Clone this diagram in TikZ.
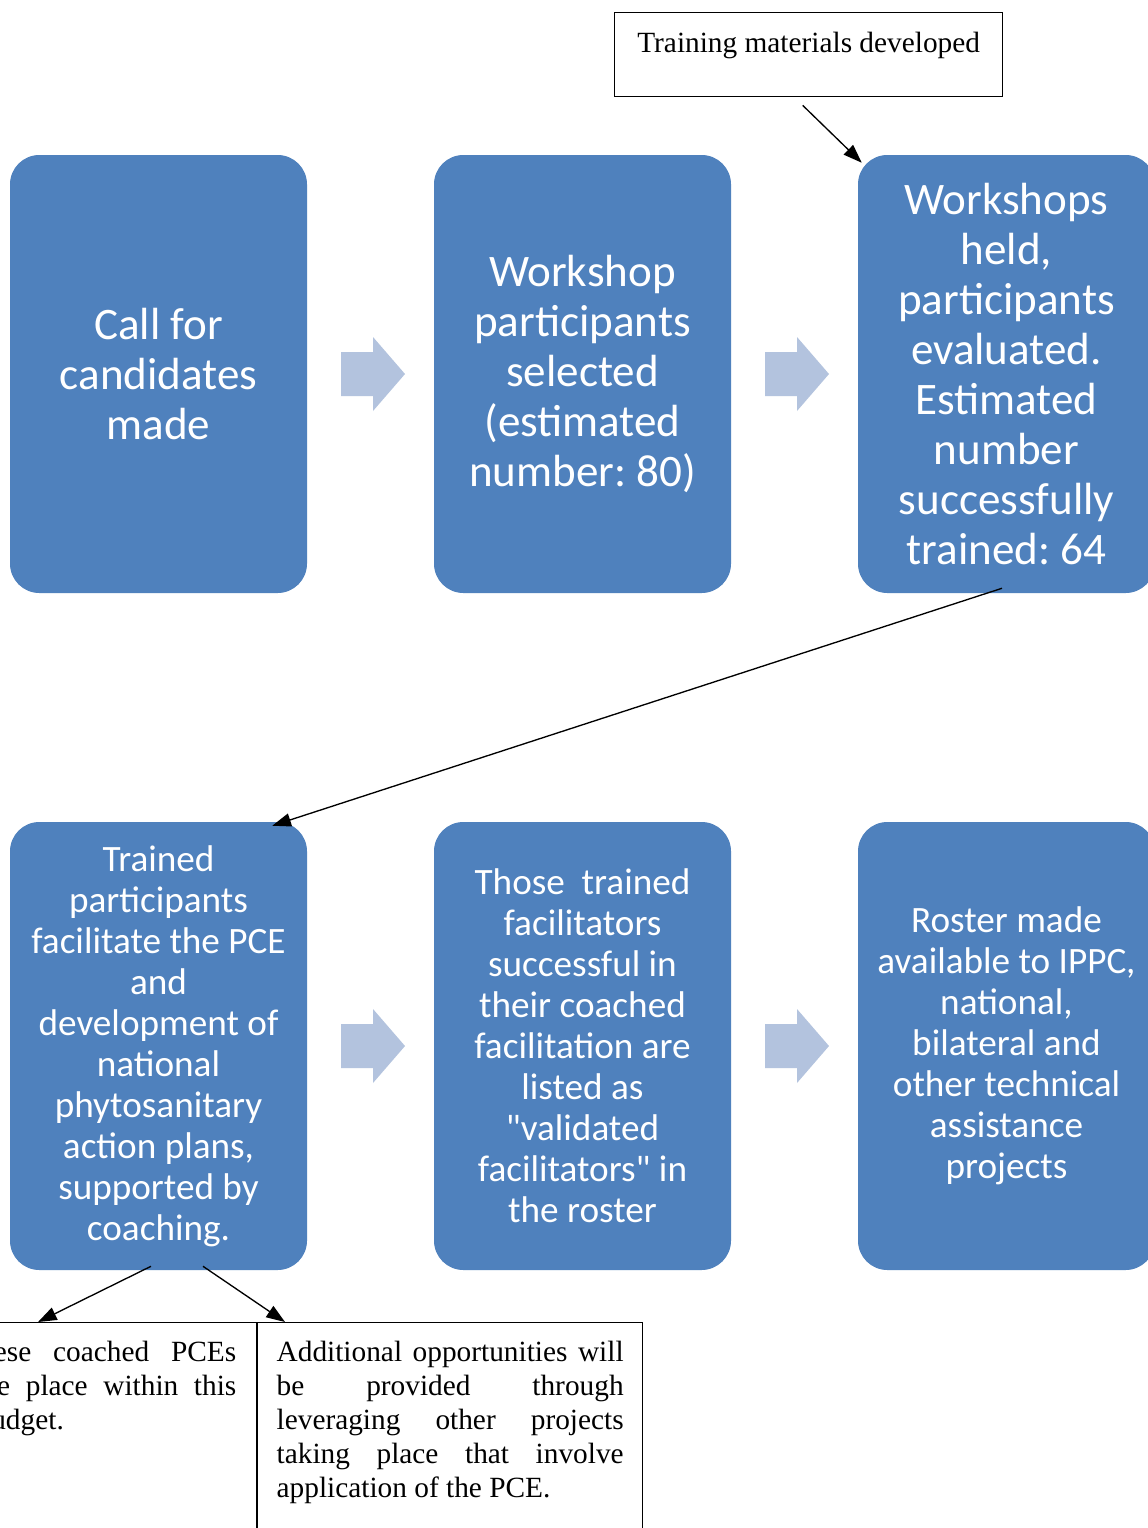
\documentclass[tikz,border=0pt]{standalone}
\usepackage{fontspec}
\setmainfont{Liberation Serif}
\newfontfamily\calib{Carlito}
\usetikzlibrary{arrows.meta,calc}
\definecolor{boxblue}{HTML}{4F81BD}
\definecolor{arrblue}{HTML}{B3C3DE}
\frenchspacing
\begin{document}
\begin{tikzpicture}[x=0.75pt,y=-0.75pt,
  bluebox/.style={fill=boxblue, rounded corners=22pt, minimum width=222.75pt, text=white, align=center, inner sep=0pt},
  toprow/.style={bluebox, minimum height=328.5pt, font=\calib\fontsize{33.8}{37.5}\selectfont},
  botrow/.style={bluebox, minimum height=336pt, font=\calib\fontsize{27.9}{30.75}\selectfont},
  notebox/.style={draw=black, line width=1pt, font=\fontsize{22}{25.5}\selectfont},
  conn/.style={-{Triangle[length=14pt,width=10pt]}, line width=1pt},
  blockarr/.pic={\fill[arrblue] (0,-22) -- (32,-22) -- (32,-37) -- (64,0) -- (32,37) -- (32,22) -- (0,22) -- cycle;}
]
\useasboundingbox (0,0) rectangle (1148,1528);
\fill[white] (0,0) rectangle (1148,1528);
\clip (0,0) rectangle (1148,1528);

% top row
\node[toprow] (b1) at (158.5,374) {Call for\\candidates\\made};
\node[toprow] (b2) at (582.5,374) {Workshop\\participants\\selected\\(estimated\\number: 80)};
\node[toprow] (b3) at (1006.5,374) {Workshops\\held,\\participants\\evaluated.\\Estimated\\number\\successfully\\trained: 64};

% bottom row
\node[botrow] (b4) at (158.5,1046) {Trained\\participants\\facilitate the PCE\\and\\development of\\national\\phytosanitary\\action plans,\\supported by\\coaching.};
\node[botrow] (b5) at (582.5,1046) {Those\ \ trained\\facilitators\\successful in\\their coached\\facilitation are\\listed as\\"validated\\facilitators" in\\the roster};
\node[botrow] (b6) at (1006.5,1046) {Roster made\\available to IPPC,\\national,\\bilateral and\\other technical\\assistance\\projects};

% block arrows
\pic at (341,374) {blockarr};
\pic at (765,374) {blockarr};
\pic at (341,1046) {blockarr};
\pic at (765,1046) {blockarr};

% training note
\node[notebox, anchor=north west, minimum width=291pt, inner ysep=0pt, text height=30pt, text depth=33pt] (train) at (614,12) {Training materials developed};

% bottom notes
\node[notebox, anchor=north east, text width=206.25pt, inner xsep=15pt, inner ysep=13.5pt, align=justify] (nl) at (257,1322)
  {These coached PCEs\linebreak take place within this\linebreak \hspace*{11.5pt}budget.\par\vspace*{150pt}\mbox{}};
\node[notebox, anchor=north west, text width=260.25pt, inner xsep=14.25pt, inner ysep=13.5pt, align=justify] (nr) at (257,1322)
  {Additional opportunities will\linebreak be provided through\linebreak leveraging other projects\linebreak taking place that involve\linebreak application of the PCE.\par\vspace*{60pt}\mbox{}};

% connectors
\coordinate (t1) at ($(train.south)+(-6,8)$);
\coordinate (t2) at ($(b3.north west)+(4,8)$);
\draw[conn] (t1) -- (t2);
\coordinate (d1) at ($(b3.south)+(-4.5,-5)$);
\coordinate (d2) at ($(b4.north east)+(-35,4)$);
\draw[conn] (d1) -- (d2);
\coordinate (l1) at ($(b4.south)+(-7.5,-4)$);
\coordinate (l2) at ($(nl.north east)+(-219,0)$);
\draw[conn] (l1) -- (l2);
\coordinate (r1) at ($(b4.south)+(44.5,-4)$);
\coordinate (r2) at ($(nr.north west)+(28,0)$);
\draw[conn] (r1) -- (r2);
\end{tikzpicture}
\end{document}
